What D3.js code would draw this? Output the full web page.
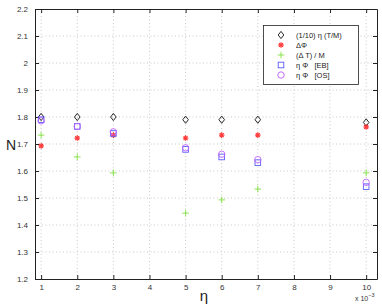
<!DOCTYPE html>
<html>
<head>
<meta charset="utf-8">
<script src="https://cdn.jsdelivr.net/npm/d3@7"></script>
<style>
  body { margin: 0; background: #fff; }
  text { font-family: "Liberation Sans", Arial, sans-serif; }
</style>
</head>
<body>
<svg id="chart" width="382" height="307"></svg>
<script>
// eta values, in units of 1e-3
const eta = [1, 2, 3, 5, 6, 7, 10];

const tmSeries   = [1.80, 1.80, 1.80, 1.79, 1.79, 1.79, 1.78];   // (1/10) eta (T/M)
const dPhi       = [1.693, 1.722, 1.733, 1.722, 1.733, 1.733, 1.763];
const dTM        = [1.733, 1.652, 1.593, 1.444, 1.493, 1.533, 1.593];
const etaPhiEB   = [1.79, 1.765, 1.739, 1.68, 1.652, 1.631, 1.542];
const etaPhiOS   = [1.786, 1.765, 1.745, 1.686, 1.662, 1.642, 1.558];

const xTicks = [1, 2, 3, 4, 5, 6, 7, 8, 9, 10];
const yTicks = [1.2, 1.3, 1.4, 1.5, 1.6, 1.7, 1.8, 1.9, 2, 2.1, 2.2];

const legendLabels = ["(1/10) \u03b7 (T/M)", "\u0394\u03a6", "(\u0394 T) / M",
    "\u03b7 \u03a6 \u00a0 [EB]", "\u03b7 \u03a6 \u00a0 [OS]"];

const svg = d3.select("#chart");

// plot box
const plotL = 35, plotR = 377, plotT = 9, plotB = 279;

const x = d3.scaleLinear().domain([0.83, 10.3]).range([plotL, plotR]);
const y = d3.scaleLinear().domain([1.2, 2.2]).range([plotB, plotT]);

// grid
const grid = svg.append("g");
grid.selectAll("line.gx")
    .data(xTicks)
    .enter().append("line")
        .attr("x1", d => x(d)).attr("x2", d => x(d))
        .attr("y1", plotT).attr("y2", plotB)
        .attr("stroke", "#bbb").attr("stroke-width", 0.8)
        .attr("stroke-dasharray", "1,2.5");
grid.selectAll("line.gy")
    .data(yTicks.slice(1, -1))
    .enter().append("line")
        .attr("y1", d => y(d)).attr("y2", d => y(d))
        .attr("x1", plotL).attr("x2", plotR)
        .attr("stroke", "#bbb").attr("stroke-width", 0.8)
        .attr("stroke-dasharray", "1,2.5");

// axes
const xAxis = svg.append("g")
    .attr("transform", "translate(0," + plotB + ")")
    .call(d3.axisBottom(x).tickValues(xTicks).tickSizeInner(-4).tickSizeOuter(0).tickPadding(5));
const xAxisTop = svg.append("g")
    .attr("transform", "translate(0," + plotT + ")")
    .call(d3.axisTop(x).tickValues(xTicks).tickSizeInner(-4).tickSizeOuter(0).tickFormat(""));
const yAxis = svg.append("g")
    .attr("transform", "translate(" + plotL + ",0)")
    .call(d3.axisLeft(y).tickValues(yTicks).tickSizeInner(-4).tickSizeOuter(0).tickPadding(7)
        .tickFormat(d3.format("")));
const yAxisRight = svg.append("g")
    .attr("transform", "translate(" + plotR + ",0)")
    .call(d3.axisRight(y).tickValues(yTicks).tickSizeInner(-4).tickSizeOuter(0).tickFormat(""));

[xAxis, xAxisTop, yAxis, yAxisRight].forEach(a => {
    a.select(".domain").attr("stroke", "#222").attr("stroke-width", 1);
    a.selectAll(".tick line").attr("stroke", "#222");
    a.selectAll("text").attr("font-size", 8).attr("fill", "#333")
        .attr("font-family", "Liberation Sans, Arial, sans-serif");
});

// axis labels
svg.append("text").attr("x", 204).attr("y", 301).attr("text-anchor", "middle")
    .attr("font-size", 15).attr("fill", "#222").text("\u03b7");
svg.append("text").attr("x", 11).attr("y", 150).attr("text-anchor", "middle")
    .attr("font-size", 14).attr("fill", "#222").text("N");
const mult = svg.append("text").attr("x", 355).attr("y", 301)
    .attr("font-size", 7).attr("fill", "#333");
mult.append("tspan").text("x 10");
mult.append("tspan").attr("dy", -4).attr("font-size", 5.5).text("\u22123");

// marker drawers
function diamond(g, cx, cy) {
    g.append("path")
        .attr("d", `M${cx},${cy - 3.6}L${cx + 2.8},${cy}L${cx},${cy + 3.6}L${cx - 2.8},${cy}Z`)
        .attr("fill", "none").attr("stroke", "#111").attr("stroke-width", 0.9);
}
function star(g, cx, cy) {
    const r = 2.8;
    [0, 45, 90, 135].forEach(a => {
        const rad = a * Math.PI / 180;
        g.append("line")
            .attr("x1", cx - r * Math.cos(rad)).attr("y1", cy - r * Math.sin(rad))
            .attr("x2", cx + r * Math.cos(rad)).attr("y2", cy + r * Math.sin(rad))
            .attr("stroke", "#ff2a2a").attr("stroke-width", 1.1);
    });
    g.append("circle").attr("cx", cx).attr("cy", cy).attr("r", 1.6).attr("fill", "#ff4040");
}
function plus(g, cx, cy) {
    const r = 3.3;
    g.append("path")
        .attr("d", `M${cx - r},${cy}H${cx + r}M${cx},${cy - r}V${cy + r}`)
        .attr("stroke", "#80e040").attr("stroke-width", 0.9);
}
function square(g, cx, cy) {
    g.append("rect").attr("x", cx - 2.8).attr("y", cy - 2.8).attr("width", 5.6).attr("height", 5.6)
        .attr("fill", "none").attr("stroke", "#5a5aff").attr("stroke-width", 0.9);
}
function circle(g, cx, cy) {
    g.append("circle").attr("cx", cx).attr("cy", cy).attr("r", 3.2)
        .attr("fill", "none").attr("stroke", "#c060ff").attr("stroke-width", 0.9);
}

const series = [
    { values: tmSeries, draw: diamond },
    { values: dPhi, draw: star },
    { values: dTM, draw: plus },
    { values: etaPhiEB, draw: square },
    { values: etaPhiOS, draw: circle }
];

const marks = svg.append("g");
series.forEach(s => {
    s.values.forEach((v, i) => s.draw(marks, x(eta[i]), y(v)));
});

// legend
const lg = svg.append("g");
lg.append("rect").attr("x", 263.5).attr("y", 25.5).attr("width", 95).attr("height", 59)
    .attr("fill", "#fff").attr("stroke", "#222").attr("stroke-width", 0.8);
series.forEach((s, i) => {
    const ly = 35 + i * 10;
    s.draw(lg, 281, ly);
    lg.append("text").attr("x", 296).attr("y", ly + 3)
        .attr("font-size", 7.5).attr("fill", "#222").text(legendLabels[i]);
});
</script>
</body>
</html>
